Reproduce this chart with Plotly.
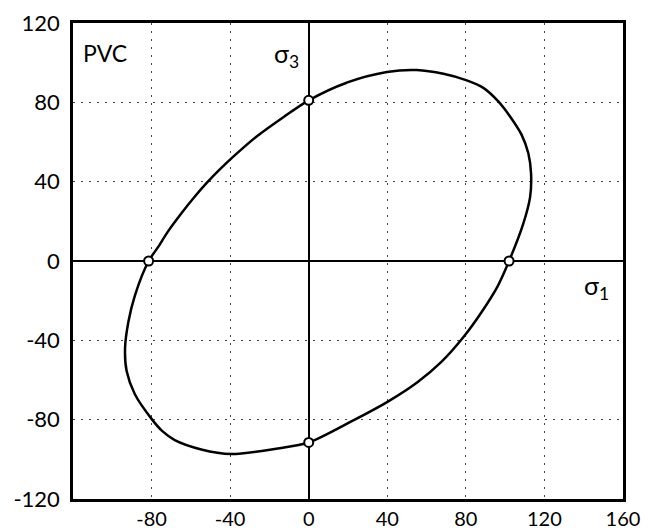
import plotly.graph_objects as go

# Yield locus (sigma1, sigma3), clockwise from the sigma3 axis
sigma1 = [0, 19.3, 39.8, 55, 68.6, 80.1, 88.9, 96.5, 102.5, 108.4, 111.8, 113.2, 112.7, 109.2, 102,
          96.1, 87.7, 79.2, 67.4, 55.5, 40.3, 21.7, 0,
          -15.8, -39.5, -54.7, -68.2, -74.5, -80, -88.5, -92.7, -93.5, -91.8, -88.5, -81.5,
          -76.7, -71.7, -65, -58.4, -51.7, -45, -38.4, -26.5, -13.1, 0]
sigma3 = [81, 89.9, 95.3, 96.3, 94.4, 91.2, 87.3, 80.5, 72.9, 63.6, 54.3, 44.0, 32.2, 18.7, 0,
          -12.9, -26.2, -37.8, -51, -61, -70.9, -80.9, -91.5,
          -94.5, -97.3, -95, -90.3, -85.8, -79.6, -67.2, -55.5, -43.9, -30.6, -17.4, 0,
          7.0, 14.8, 23.8, 32.0, 39.6, 46.4, 52.6, 62.8, 72.4, 81]

# Intercepts marked with open circles
int_x = [-81.5, 102, 0, 0]
int_y = [0, 0, 81, -91.5]

x_ticks = [-80, -40, 0, 40, 80, 120, 160]
y_ticks = [-120, -80, -40, 0, 40, 80, 120]

FONT = "Lato"

fig = go.Figure()
fig.add_trace(go.Scatter(x=sigma1, y=sigma3, mode="lines",
                         line=dict(color="black", width=2.5, shape="spline", smoothing=0.8),
                         hoverinfo="skip"))
fig.add_trace(go.Scatter(x=int_x, y=int_y, mode="markers",
                         marker=dict(symbol="circle", size=9, color="white",
                                     line=dict(color="black", width=2)),
                         hoverinfo="skip"))

fig.add_annotation(x=-116, y=105, text="PVC", showarrow=False, xanchor="left", yanchor="middle",
                   font=dict(family=FONT, size=23, color="black"))
fig.add_annotation(x=-4, y=104, text="σ<sub>3</sub>", showarrow=False, xanchor="right", yanchor="middle",
                   font=dict(family=FONT, size=25, color="black"))
fig.add_annotation(x=139, y=-13, text="σ<sub>1</sub>", showarrow=False, xanchor="left", yanchor="middle",
                   font=dict(family=FONT, size=25, color="black"))

axis_common = dict(showline=True, mirror=True, linecolor="black", linewidth=2.5,
                   showgrid=True, gridcolor="#444", gridwidth=1, griddash="2px,6px",
                   zeroline=True, zerolinecolor="black", zerolinewidth=2,
                   automargin=False, ticks="")

fig.update_xaxes(range=[-120, 160], tickvals=x_ticks, ticktext=[str(v) for v in x_ticks],
                 ticklabelstandoff=0, tickfont=dict(family=FONT, size=20, color="black"),
                 **axis_common)
fig.update_yaxes(range=[-120, 120], tickvals=y_ticks, ticktext=[str(v) for v in y_ticks],
                 ticklabelstandoff=6, tickfont=dict(family=FONT, size=22, color="black"),
                 **axis_common)

fig.update_layout(width=648, height=531, showlegend=False,
                  margin=dict(l=73, r=25, t=23, b=32),
                  plot_bgcolor="white", paper_bgcolor="white")

fig.write_html("out.html")
